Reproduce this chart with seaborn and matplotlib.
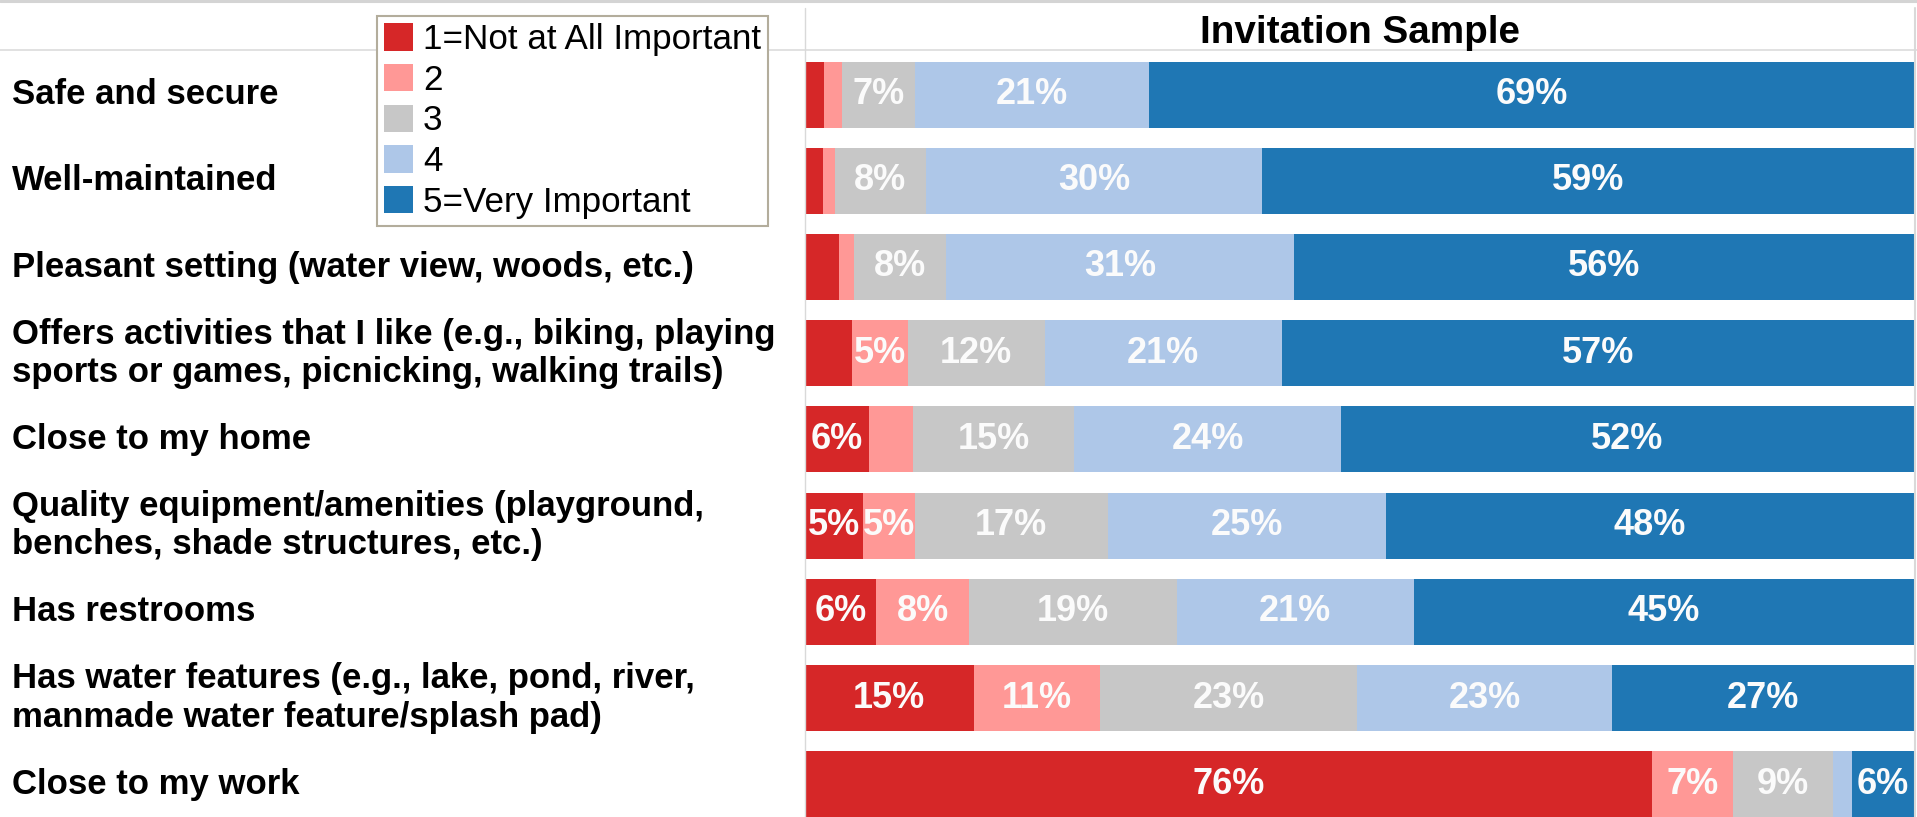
import matplotlib
matplotlib.use("Agg")
import matplotlib.pyplot as plt
from matplotlib.lines import Line2D
from matplotlib.transforms import blended_transform_factory
import seaborn as sns
import pandas as pd
import numpy as np

categories = [
    "Safe and secure",
    "Well-maintained",
    "Pleasant setting (water view, woods, etc.)",
    "Offers activities that I like (e.g., biking, playing\nsports or games, picnicking, walking trails)",
    "Close to my home",
    "Quality equipment/amenities (playground,\nbenches, shade structures, etc.)",
    "Has restrooms",
    "Has water features (e.g., lake, pond, river,\nmanmade water feature/splash pad)",
    "Close to my work",
]
level_names = ["1=Not at All Important", "2", "3", "4", "5=Very Important"]
level1 = [1.7, 1.6, 3.1, 4.2, 5.8, 5.2, 6.4, 15.2, 76.4]
level2 = [1.6, 1.1, 1.3, 5.1, 3.9, 4.7, 8.4, 11.4, 7.3]
level3 = [6.6, 8.2, 8.3, 12.3, 14.6, 17.4, 18.7, 23.2, 9.0]
level4 = [21.1, 30.3, 31.4, 21.4, 24.0, 25.1, 21.4, 23.0, 1.7]
level5 = [69.0, 58.8, 55.9, 57.0, 51.7, 47.6, 45.1, 27.2, 5.6]
colors = ["#d62728", "#ff9896", "#c7c7c7", "#aec7e8", "#1f77b4"]
title = "Invitation Sample"

sns.set_theme(style="white")
plt.rcParams["font.family"] = ["Liberation Sans", "DejaVu Sans"]

W, H = 1917, 817
fig = plt.figure(figsize=(W / 100, H / 100), dpi=100)
ax_left, ax_right, ax_top = 805, 1914, 50
ax = fig.add_axes([ax_left / W, 0, (ax_right - ax_left) / W, 1 - ax_top / H])

levels = [level1, level2, level3, level4, level5]
cum = np.zeros(len(categories))
cums = []
for lv in levels:
    cum = cum + np.array(lv)
    cums.append(cum.copy())

# draw cumulative totals from the largest down so earlier levels overlay
for i in reversed(range(5)):
    d = pd.DataFrame({"category": categories, "value": cums[i]})
    sns.barplot(data=d, x="value", y="category", orient="h", color=colors[i],
                saturation=1, width=0.766, label=level_names[i], ax=ax,
                linewidth=0, edgecolor="none")

handles, labels = ax.get_legend_handles_labels()
if ax.get_legend() is not None:
    ax.get_legend().remove()

ax.set_xlim(0, 100)
row_px = 86.2
shift = 1.5 / row_px
ax.set_ylim(-0.5 - shift + (H - ax_top) / row_px, -0.5 - shift)
ax.set_axis_off()

# segment labels
starts = [np.zeros(len(categories))] + cums[:-1]
for i, lv in enumerate(levels):
    for j, v in enumerate(lv):
        if round(v) >= 5:
            ax.text(starts[i][j] + v / 2, j, f"{v:.0f}%", ha="center", va="center",
                    color="#fbfbfb", fontsize=26, fontweight="bold")

# row labels at the left
tr = blended_transform_factory(fig.transFigure, ax.transData)
for j, c in enumerate(categories):
    ax.text(12 / W, j, c, transform=tr, ha="left", va="center", fontsize=25,
            fontweight="bold", color="black", linespacing=1.2, clip_on=False)

# header
fig.text((ax_left + ax_right) / 2 / W, 1 - 33 / H, title, ha="center", va="center",
         fontsize=27.8, fontweight="bold", color="black")

# frame lines
fig.add_artist(Line2D([0, 1], [1 - 1.3 / H, 1 - 1.3 / H], color="#d4d4d4", lw=2.2))
fig.add_artist(Line2D([0, 1], [1 - 50 / H, 1 - 50 / H], color="#dcdcdc", lw=1.2))
fig.add_artist(Line2D([ax_left / W, ax_left / W], [0, 1 - 8 / H], color="#d9d9d9", lw=1.0))
fig.add_artist(Line2D([1915 / W, 1915 / W], [0, 1 - 8 / H], color="#d9d9d9", lw=1.5))

# legend
handles, labels = handles[::-1], labels[::-1]
leg = fig.legend(handles, labels, loc="upper left",
                 bbox_to_anchor=(376.6 / W, 1 - 16 / H), bbox_transform=fig.transFigure,
                 frameon=True, fancybox=False, edgecolor="#b3ad9c", framealpha=1,
                 fontsize=25.2, handlelength=0.83, handleheight=0.83,
                 handletextpad=0.3, labelspacing=0.22, borderpad=0.2,
                 borderaxespad=0, labelcolor="black")
leg.get_frame().set_linewidth(1.5)

fig.savefig("out.png", dpi=100)
